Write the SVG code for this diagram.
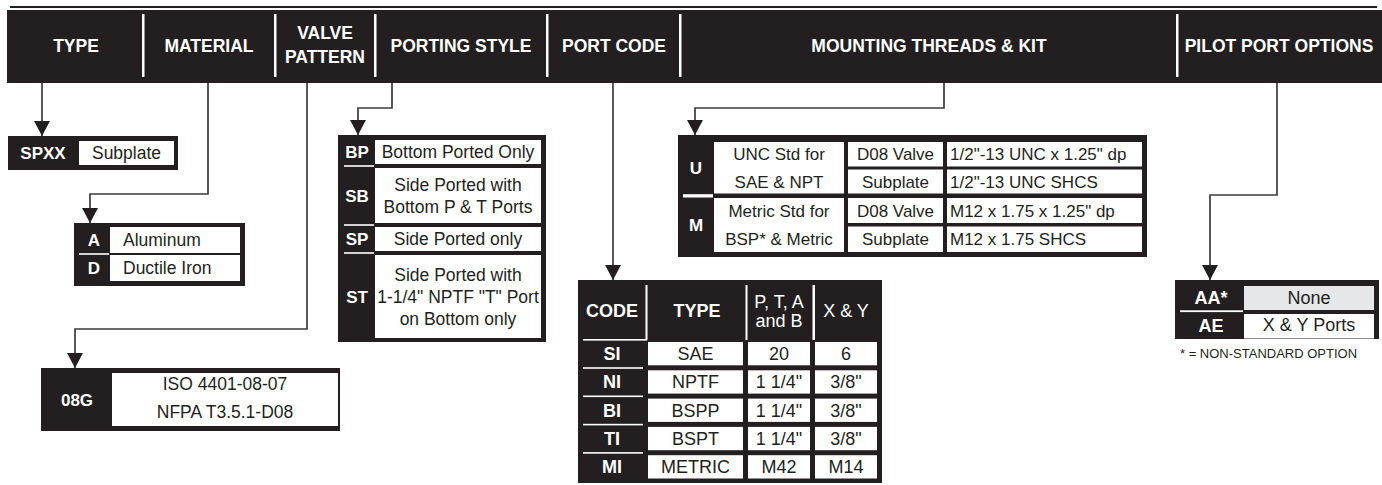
<svg xmlns="http://www.w3.org/2000/svg" width="1382" height="485" viewBox="0 0 1382 485">
<defs>
<style>
.bk{fill:#231f20}
.wh{fill:#ffffff}
.gy{fill:#e6e7e8}
.sep{fill:#ffffff}
text{font-family:"Liberation Sans",Arial,Helvetica,sans-serif}
.hd{font-size:17.5px;font-weight:bold;fill:#ffffff;text-anchor:middle}
.cd{font-size:17px;font-weight:bold;fill:#ffffff;text-anchor:middle}
.tx{font-size:17.5px;fill:#231f20}
.txc{font-size:17.5px;fill:#231f20;text-anchor:middle}
.tm{font-size:17px;fill:#231f20;text-anchor:middle}
.tml{font-size:17px;fill:#231f20}
.pt{font-size:18px;fill:#231f20;text-anchor:middle}
.ptc{font-size:18px;font-weight:bold;fill:#ffffff;text-anchor:middle}
.pth{font-size:18px;fill:#ffffff;text-anchor:middle}
.conn{stroke:#3b3b3b;stroke-width:1.7;fill:none;marker-end:url(#arr)}
</style>
<marker id="arr" viewBox="0 0 15 16" refX="15" refY="8" markerWidth="15" markerHeight="16" markerUnits="userSpaceOnUse" orient="auto">
<path d="M0,0 L15,8 L0,16 z" fill="#231f20"/>
</marker>
</defs>

<g id="header">
<rect class="bk" x="10" y="6" width="1367" height="2"/>
<rect class="bk" x="7" y="10" width="1375" height="73"/>
<rect class="sep" x="142" y="14" width="2.5" height="63"/>
<rect class="sep" x="274" y="14" width="2.5" height="63"/>
<rect class="sep" x="374" y="14" width="2.5" height="63"/>
<rect class="sep" x="546" y="14" width="2.5" height="63"/>
<rect class="sep" x="679" y="14" width="2.5" height="63"/>
<rect class="sep" x="1176" y="14" width="2.5" height="63"/>
<text class="hd" x="76" y="52">TYPE</text>
<text class="hd" x="209" y="52">MATERIAL</text>
<text class="hd" x="325" y="39">VALVE</text>
<text class="hd" x="325" y="63">PATTERN</text>
<text class="hd" x="461" y="52">PORTING STYLE</text>
<text class="hd" x="614" y="52">PORT CODE</text>
<text class="hd" x="929" y="52">MOUNTING THREADS &amp; KIT</text>
<text class="hd" x="1279" y="52">PILOT PORT OPTIONS</text>
</g>

<g id="connectors">
<path class="conn" d="M42,83 V136"/>
<path class="conn" d="M208,83 V194 H90 V223"/>
<path class="conn" d="M307,83 V329 H75 V368"/>
<path class="conn" d="M392,83 V108 H358 V135"/>
<path class="conn" d="M613,83 V280"/>
<path class="conn" d="M944,83 V108 H695 V135"/>
<path class="conn" d="M1277,83 V195 H1210 V280"/>
</g>

<g id="type-node">
<rect class="bk" x="8" y="136" width="170" height="34"/>
<rect class="wh" x="79" y="141" width="95" height="24"/>
<text class="cd" x="43" y="159">SPXX</text>
<text class="txc" x="126.5" y="159">Subplate</text>
</g>

<g id="material-node">
<rect class="bk" x="74" y="223" width="171" height="63"/>
<rect class="wh" x="110" y="227" width="130" height="26"/>
<rect class="wh" x="110" y="255" width="130" height="26"/>
<rect class="sep" x="79" y="253.2" width="30" height="1.6"/>
<text class="cd" x="94" y="246">A</text>
<text class="cd" x="94" y="274">D</text>
<text class="tx" x="123" y="246">Aluminum</text>
<text class="tx" x="123" y="274">Ductile Iron</text>
</g>

<g id="valve-pattern-node">
<rect class="bk" x="41" y="368" width="299" height="63"/>
<rect class="wh" x="112" y="373" width="226" height="53"/>
<text class="cd" x="77" y="405.5">08G</text>
<text class="txc" x="225" y="390">ISO 4401-08-07</text>
<text class="txc" x="225" y="418">NFPA T3.5.1-D08</text>
</g>

<g id="porting-node">
<rect class="bk" x="338" y="135" width="208" height="207"/>
<rect class="wh" x="375" y="140" width="166" height="24"/>
<rect class="wh" x="375" y="168" width="166" height="55"/>
<rect class="wh" x="375" y="227" width="166" height="24"/>
<rect class="wh" x="375" y="255" width="166" height="83"/>
<rect class="sep" x="344" y="165.2" width="30" height="1.6"/>
<rect class="sep" x="344" y="224.2" width="30" height="1.6"/>
<rect class="sep" x="344" y="252.2" width="30" height="1.6"/>
<text class="cd" x="357" y="158">BP</text>
<text class="cd" x="357" y="201.5">SB</text>
<text class="cd" x="357" y="245">SP</text>
<text class="cd" x="357" y="303">ST</text>
<text class="txc" x="458" y="158">Bottom Ported Only</text>
<text class="txc" x="458" y="190.5">Side Ported with</text>
<text class="txc" x="458" y="212.5">Bottom P &amp; T Ports</text>
<text class="txc" x="458" y="245">Side Ported only</text>
<text class="txc" x="458" y="281">Side Ported with</text>
<text class="txc" x="458" y="303">1-1/4" NPTF "T" Port</text>
<text class="txc" x="458" y="325">on Bottom only</text>
</g>

<g id="port-code-node">
<rect class="bk" x="578" y="280" width="304" height="203"/>
<rect class="sep" x="645.5" y="285" width="2" height="55"/>
<rect class="sep" x="583" y="339" width="64" height="1.6"/>
<rect class="sep" x="745.5" y="285" width="2" height="55"/>
<rect class="sep" x="812.5" y="285" width="2.5" height="55"/>
<text class="ptc" x="612" y="317">CODE</text>
<text class="ptc" x="697" y="317">TYPE</text>
<text class="pth" x="779" y="308">P, T, A</text>
<text class="pth" x="779" y="327">and B</text>
<text class="pth" x="846" y="317">X &amp; Y</text>
<g>
<rect class="wh" x="648" y="342" width="95" height="23.3"/>
<rect class="wh" x="748" y="342" width="62" height="23.3"/>
<rect class="wh" x="815" y="342" width="62" height="23.3"/>
<rect class="wh" x="648" y="370.3" width="95" height="23.3"/>
<rect class="wh" x="748" y="370.3" width="62" height="23.3"/>
<rect class="wh" x="815" y="370.3" width="62" height="23.3"/>
<rect class="wh" x="648" y="398.6" width="95" height="23.3"/>
<rect class="wh" x="748" y="398.6" width="62" height="23.3"/>
<rect class="wh" x="815" y="398.6" width="62" height="23.3"/>
<rect class="wh" x="648" y="426.9" width="95" height="23.3"/>
<rect class="wh" x="748" y="426.9" width="62" height="23.3"/>
<rect class="wh" x="815" y="426.9" width="62" height="23.3"/>
<rect class="wh" x="648" y="455.2" width="95" height="23.3"/>
<rect class="wh" x="748" y="455.2" width="62" height="23.3"/>
<rect class="wh" x="815" y="455.2" width="62" height="23.3"/>
<rect class="sep" x="583" y="367.2" width="60" height="1.6"/>
<rect class="sep" x="583" y="395.5" width="60" height="1.6"/>
<rect class="sep" x="583" y="423.8" width="60" height="1.6"/>
<rect class="sep" x="583" y="452.1" width="60" height="1.6"/>
</g>
<text class="ptc" x="612" y="360">SI</text>
<text class="ptc" x="612" y="388.3">NI</text>
<text class="ptc" x="612" y="416.6">BI</text>
<text class="ptc" x="612" y="444.9">TI</text>
<text class="ptc" x="612" y="473.2">MI</text>
<text class="pt" x="695.5" y="360">SAE</text>
<text class="pt" x="695.5" y="388.3">NPTF</text>
<text class="pt" x="695.5" y="416.6">BSPP</text>
<text class="pt" x="695.5" y="444.9">BSPT</text>
<text class="pt" x="695.5" y="473.2">METRIC</text>
<text class="pt" x="779" y="360">20</text>
<text class="pt" x="779" y="388.3">1 1/4"</text>
<text class="pt" x="779" y="416.6">1 1/4"</text>
<text class="pt" x="779" y="444.9">1 1/4"</text>
<text class="pt" x="779" y="473.2">M42</text>
<text class="pt" x="846" y="360">6</text>
<text class="pt" x="846" y="388.3">3/8"</text>
<text class="pt" x="846" y="416.6">3/8"</text>
<text class="pt" x="846" y="444.9">3/8"</text>
<text class="pt" x="846" y="473.2">M14</text>
</g>

<g id="mounting-node">
<rect class="bk" x="678" y="135" width="469" height="122"/>
<rect class="wh" x="714" y="142" width="130" height="51.5"/>
<rect class="wh" x="714" y="198" width="130" height="54"/>
<rect class="wh" x="848" y="142" width="95" height="24.5"/>
<rect class="wh" x="848" y="169.5" width="95" height="24"/>
<rect class="wh" x="848" y="198" width="95" height="25"/>
<rect class="wh" x="848" y="226.5" width="95" height="25.5"/>
<rect class="wh" x="947" y="142" width="195" height="24.5"/>
<rect class="wh" x="947" y="169.5" width="195" height="24"/>
<rect class="wh" x="947" y="198" width="195" height="25"/>
<rect class="wh" x="947" y="226.5" width="195" height="25.5"/>
<rect class="sep" x="683" y="194.2" width="30" height="3.3"/>
<text class="cd" x="696" y="174">U</text>
<text class="cd" x="696" y="231">M</text>
<text class="tm" x="779" y="160">UNC Std for</text>
<text class="tm" x="779" y="187.5">SAE &amp; NPT</text>
<text class="tm" x="779" y="216.5">Metric Std for</text>
<text class="tm" x="779" y="245">BSP* &amp; Metric</text>
<text class="tm" x="895.5" y="160">D08 Valve</text>
<text class="tm" x="895.5" y="187.5">Subplate</text>
<text class="tm" x="895.5" y="216.5">D08 Valve</text>
<text class="tm" x="895.5" y="245">Subplate</text>
<text class="tml" x="950" y="160">1/2"-13 UNC x 1.25" dp</text>
<text class="tml" x="950" y="187.5">1/2"-13 UNC SHCS</text>
<text class="tml" x="950" y="216.5">M12 x 1.75 x 1.25" dp</text>
<text class="tml" x="950" y="245">M12 x 1.75 SHCS</text>
</g>

<g id="pilot-node">
<rect class="bk" x="1175" y="280" width="204" height="59"/>
<rect class="gy" x="1244" y="286" width="130" height="24"/>
<rect class="wh" x="1244" y="314" width="130" height="24.5"/>
<rect class="sep" x="1180" y="310.3" width="63" height="1.8"/>
<text class="ptc" x="1211" y="304">AA*</text>
<text class="ptc" x="1211" y="332">AE</text>
<text class="pt" x="1309" y="304">None</text>
<text class="pt" x="1309" y="331">X &amp; Y Ports</text>
<text style="font-size:13px;fill:#231f20" x="1180" y="358">* = NON-STANDARD OPTION</text>
</g>
</svg>
